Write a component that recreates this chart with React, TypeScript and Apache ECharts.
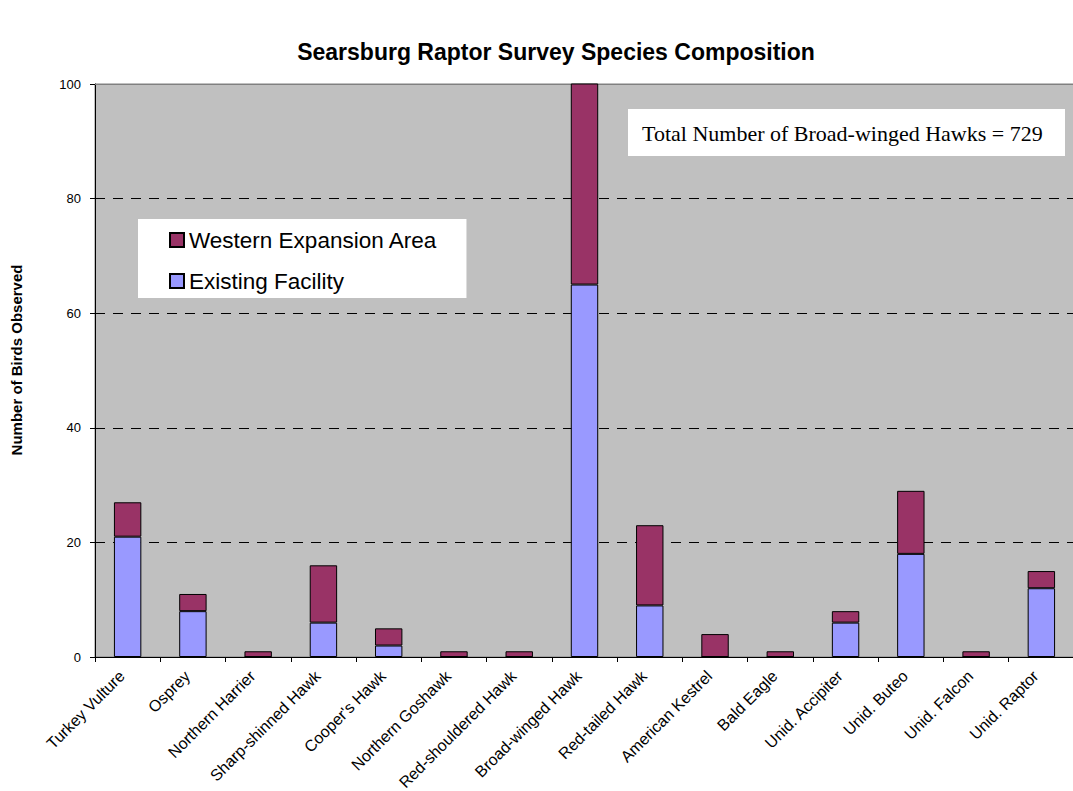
import React, { useEffect, useRef } from "react";
import * as echarts from "echarts";

const categories = [
  "Turkey Vulture",
  "Osprey",
  "Northern Harrier",
  "Sharp-shinned Hawk",
  "Cooper's Hawk",
  "Northern Goshawk",
  "Red-shouldered Hawk",
  "Broad-winged Hawk",
  "Red-tailed Hawk",
  "American Kestrel",
  "Bald Eagle",
  "Unid. Accipiter",
  "Unid. Buteo",
  "Unid. Falcon",
  "Unid. Raptor",
];

const existingFacility = [21, 8, 0, 6, 2, 0, 0, 65, 9, 0, 0, 6, 18, 0, 12];
const westernExpansion = [6, 3, 1, 10, 3, 1, 1, 664, 14, 4, 1, 2, 11, 1, 3];

const yTicks = { min: 0, max: 100, interval: 20 };

const titleText = "Searsburg Raptor Survey Species Composition";
const yAxisName = "Number of Birds Observed";
const annotationText = "Total Number of Broad-winged Hawks = 729";
const seriesNames = ["Western Expansion Area", "Existing Facility"];

const SANS = "Arial, 'Liberation Sans', sans-serif";
const SERIF = "'Times New Roman', 'Liberation Serif', serif";

export default function App() {
  const ref = useRef<HTMLDivElement>(null);

  useEffect(() => {
    if (!ref.current) return;
    const chart = echarts.init(ref.current, undefined, { renderer: "svg" });
    chart.setOption({
      animation: false,
      backgroundColor: "#ffffff",
      title: {
        text: titleText,
        left: 551,
        textAlign: "center",
        top: 35,
        textStyle: {
          fontFamily: SANS,
          fontSize: 23,
          fontWeight: "bold",
          color: "#000",
        },
      },
      grid: {
        left: 95,
        top: 84,
        right: -1,
        bottom: 134,
        containLabel: false,
        outerBoundsMode: "none",
        show: true,
        backgroundColor: "#C0C0C0",
        borderColor: "#808080",
        borderWidth: 1,
      },
      legend: {
        orient: "vertical",
        left: 138,
        top: 219,
        data: seriesNames,
        backgroundColor: "#ffffff",
        padding: [9, 29, 5, 31],
        itemGap: 17,
        itemWidth: 14,
        itemHeight: 14,
        icon: "rect",
        textStyle: {
          fontFamily: SANS,
          fontSize: 22.5,
          lineHeight: 24,
          color: "#000",
        },
      },
      xAxis: {
        type: "category",
        data: categories,
        axisLine: { lineStyle: { color: "#000", width: 1 } },
        axisTick: { show: true, length: 5, lineStyle: { color: "#000" } },
        axisLabel: {
          rotate: 45,
          interval: 0,
          margin: 22,
          verticalAlign: "bottom",
          fontFamily: SANS,
          fontSize: 16,
          color: "#000",
        },
      },
      yAxis: {
        type: "value",
        min: yTicks.min,
        max: yTicks.max,
        interval: yTicks.interval,
        axisLine: { show: true, lineStyle: { color: "#000", width: 1 } },
        axisTick: { show: true, length: 5, lineStyle: { color: "#000" } },
        axisLabel: {
          margin: 14,
          fontFamily: SANS,
          fontSize: 13,
          color: "#000",
        },
        splitLine: {
          show: true,
          lineStyle: { color: "#000", type: [10, 8], width: 1 },
        },
      },
      series: [
        {
          name: seriesNames[1],
          type: "bar",
          stack: "total",
          barWidth: "42%",
          data: existingFacility,
          itemStyle: { color: "#9999FF", borderColor: "#000", borderWidth: 1 },
        },
        {
          name: seriesNames[0],
          type: "bar",
          stack: "total",
          barWidth: "42%",
          data: westernExpansion,
          itemStyle: { color: "#993366", borderColor: "#000", borderWidth: 1 },
        },
      ],
      graphic: [
        {
          type: "line",
          z: 1,
          shape: { x1: 95, y1: 84.5, x2: 1073, y2: 84.5 },
          style: { stroke: "#808080", lineWidth: 1 },
        },
        {
          type: "text",
          x: 16,
          y: 360,
          rotation: Math.PI / 2,
          style: {
            text: yAxisName,
            fontFamily: SANS,
            fontSize: 15,
            fontWeight: "bold",
            fill: "#000",
            align: "center",
            verticalAlign: "middle",
          },
        },
        {
          type: "rect",
          shape: { x: 628, y: 109, width: 437, height: 47 },
          style: { fill: "#ffffff" },
        },
        {
          type: "text",
          x: 642,
          y: 133,
          style: {
            text: annotationText,
            fontFamily: SERIF,
            fontSize: 22,
            fill: "#000",
            verticalAlign: "middle",
          },
        },
      ],
    });
    return () => chart.dispose();
  }, []);

  return (
    <div
      ref={ref}
      style={{ position: "absolute", left: 0, top: 0, width: 1073, height: 791 }}
    />
  );
}
